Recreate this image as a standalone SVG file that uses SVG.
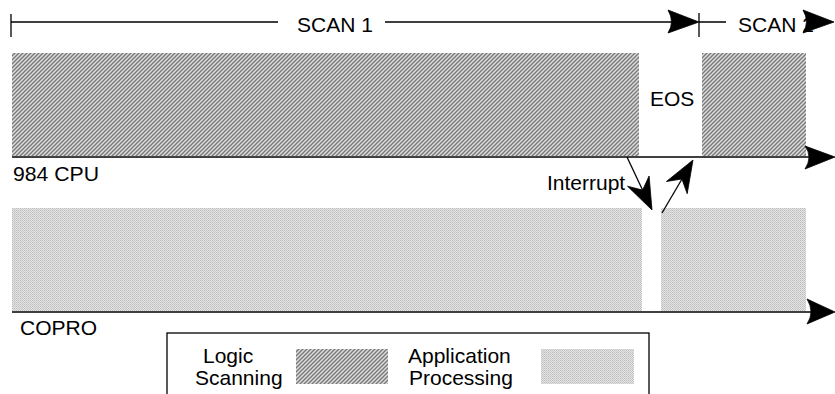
<svg xmlns="http://www.w3.org/2000/svg" width="835" height="394" viewBox="0 0 835 394">
<style>
text{font-family:"Liberation Sans",Arial,Helvetica,sans-serif;font-size:21px;fill:#000}
.ln{stroke:#000;stroke-width:1.3;fill:none}
.ax{stroke:#000;stroke-width:1.6;fill:none}
.ah{fill:#000;stroke:#000;stroke-width:0.8;stroke-linejoin:round}
.logic{fill:url(#hatch)}
.app{fill:url(#dots)}
</style>
<defs>
<pattern id="hatch" patternUnits="userSpaceOnUse" width="4" height="4">
<rect width="4" height="4" fill="#dcdcdc"/>
<path d="M-1,5 L5,-1 M-1,1 L1,-1 M3,5 L5,3" stroke="#767676" stroke-width="1.25"/>
</pattern>
<pattern id="dots" patternUnits="userSpaceOnUse" width="2" height="2">
<rect width="2" height="2" fill="#e4e4e4"/>
<rect width="1" height="1" fill="#bdbdbd"/>
<rect x="1" y="1" width="1" height="1" fill="#cacaca"/>
</pattern>
</defs>

<g id="scan-bar">
<path class="ln" d="M11,14 V37 M11,22 H278 M385,22 H672 M699,13 V37 M699,22 H726"/>
<path class="ah" d="M699,22 L668,10 Q675,22 668,33 Z"/>
<text x="297" y="32">SCAN 1</text>
<text x="738" y="32">SCAN 2</text>
<path class="ah" d="M834,22 L803,10 Q810,22 803,33 Z"/>
</g>

<g id="cpu-row">
<rect class="logic" x="12" y="53" width="627" height="103"/>
<rect class="logic" x="702" y="53" width="104" height="103"/>
<text x="650" y="106">EOS</text>
<text x="13" y="181" textLength="86" lengthAdjust="spacingAndGlyphs">984 CPU</text>
</g>

<g id="copro-row">
<rect class="app" x="12" y="208" width="630" height="103"/>
<rect class="app" x="661" y="208" width="145" height="103"/>
<text x="20" y="335">COPRO</text>
</g>

<g id="connectors">
<path class="ax" d="M12,157 H812"/>
<path class="ah" d="M835,157 L805,146 Q813,157 805,169 Z"/>
<path class="ax" d="M12,312 H812"/>
<path class="ah" d="M835,312 L807,299 Q815,312 807,324 Z"/>
<path class="ln" d="M627,157 L643,191"/>
<path class="ah" d="M652,210 L627.5,186.2 L642.6,190.1 L649.1,176 Z"/>
<path class="ln" d="M662,213 L682,179"/>
<path class="ah" d="M693,160 L687.2,193.7 L681.9,179 L666.4,181.5 Z"/>
<text x="547" y="190">Interrupt</text>
</g>

<g id="legend">
<rect x="167" y="333" width="482" height="80" fill="#fff" stroke="#000" stroke-width="1.3"/>
<text x="203" y="363">Logic</text>
<text x="195" y="385">Scanning</text>
<rect class="logic" x="296" y="349" width="92" height="35"/>
<text x="408" y="363">Application</text>
<text x="409" y="385">Processing</text>
<rect class="app" x="541" y="349" width="93" height="35"/>
</g>
</svg>
